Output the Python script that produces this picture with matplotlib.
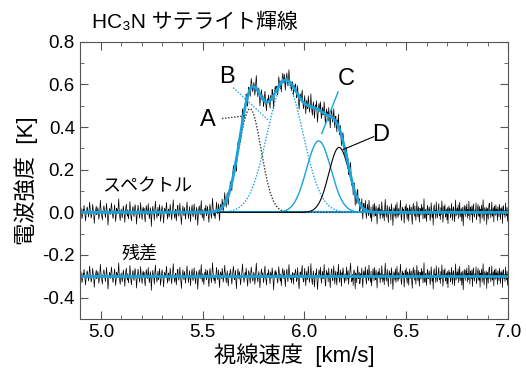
import numpy as np
import matplotlib
matplotlib.use('Agg')
import matplotlib.pyplot as plt
from matplotlib.ticker import MultipleLocator

plt.rcParams['font.family'] = ['Liberation Sans', 'Noto Sans CJK JP', 'DejaVu Sans']
plt.rcParams['axes.unicode_minus'] = False

# Gaussian fit components (amplitude [K], centre [km/s], sigma [km/s])
comp_names = ['A', 'B', 'C', 'D']
comp_amp = [0.486, 0.61, 0.335, 0.305]
comp_center = [5.732, 5.905, 6.07, 6.17]
comp_sigma = [0.055, 0.088, 0.06, 0.05]

# residual after the fit, in mK, one value per channel (4.9 - 7.0 km/s)
residual_mK = [
    8, 21, -6, -30, -12, 15, 4, 33, 10, -18, -41, -9, 2, 26, 17, -5, -22, 11, 48, 19,
    -3, -27, -14, 6, 38, 12, -8, -52, -20, 1, 14, 29, -11, -2, 23, 7, -33, -16, 9, 57,
    22, -4, -19, -36, 5, 18, 31, 13, -7, -25, 3, 42, 16, -13, -60, -24, 0, 19, 8, -10,
    27, 44, 6, -15, -29, -8, 12, 35, -2, -43, -17, 20, 9, -6, 25, 63, 14, -21, -38, -1,
    16, -9, -26, 4, 30, 11, -14, -47, -5, 24, 39, 2, -18, 13, -31, -12, 7, 51, 18, -23,
    -40, -7, 15, 28, -3, -20, 10, 37, 21, -11, -55, -16, 6, 34, 14, -8, -28, 3, 46, 9,
    -17, -34, 12, 25, -6, 19, -24, -45, 1, 32, 17, -10, -2, 41, 8, -30, -13, 22, 5, -66,
    -19, 10, 29, 4, -12, -37, 18, 53, 13, -9, -27, 0, 24, -15, -4, 36, 11, -42, -21, 7,
    31, 15, -8, -50, -18, 20, 6, -3, 27, 45, -14, -32, 9, 16, -22, -6, 38, 12, -11, -35,
    3, 26, 59, 17, -13, -28, 2, 14, -40, -9, 21, 33, -5, -19, 8, 43, 10, -24, -57, -15,
    11, 30, -2, -16, 23, 6, -33, -10, 18, 49, 15, -7, -29, 4, 27, -12, -44, 0, 19, 35,
    -8, -21, 13, 40, 7, -14, -36, 9, 24, -4, -61, -18, 16, 31, 2, -11, 22, 55, -6, -26,
    14, -3, -39, -12, 20, 8, 34, -17, -5, 28, 11, -23, -48, 6, 37, 18, -9, -30, 12, 64,
    25, -7, -20, 3, -34, -13, 17, 42, 9, -15, -2, 30, -25, -52, 10, 21, 5, -11, 38, 14,
    -28, -8, 19, 52, 16, -4, -31, 7, 26, -18, -45, -10, 13, 3, 33, 20, -14, -37, 1, 24,
    47, 12, -16, -5, 29, -22, -58, -9, 15, 36, 6, -13, 22, -3, -40, -17, 8, 31, 58, 10,
    -12, -29, 4, 18, -6, 39, 13, -21, -46, 2, 27, 16, -8, -33, 11, 44, 19, -2, -24, -9,
    20, 7, -38, -15, 31, 62, 14, -10, -27, 5, 23, -4, -53, -19, 9, 35, 12, -7, 17, -30,
    -11, 26, 48, 3, -20, -41, 8, 15, -2, 32, 10, -16, -35, 21, 6, -9, 40, 18, -25, -63,
    -14, 13, 29, -1, 22, 9, -18, -32, 4, 45, 17, -6, -23, 11, -44, -12, 24, 37, 5, -10,
    28, -19, -48, 2, 16, 34, -7, -26, 12, 55, 21, -3, -15, 8, -31, -11, 19, 6, -37, 14,
    -6, 17, 33, 9, -24, -13, 41, 2, -35, -58, -8, 21, 14, -3, 29, 52, 7, -19, -27, 11,
    38, -10, -44, 5, 23, -16, -1, 47, 19, -29, -12, 8, 60, 13, -21, -39, 4, 26, -7, -50,
    -18, 15, 3, 36, -9, -62, -23, 10, 31, 18, -4, 43, -14, -33, 6, 24, -11, 1, 55, 20,
    -30, -45, 12, 28, -2, 16, -26, 39, 7, -15, -53, 0, 22, 35, -8, -20, 14, 49, -5, -36,
    9, 25, -17, -41, 19, 4, 57, 11, -28, -6, 30, -12, -47, 17, 2, 40, 21, -9, -32, 13,
    -3, -22, 44, 15, -13, 27, -38, -7, 8, 34, 62, 5, -25, -16, 10, -43, 19, 31, -2, -59,
    16, 7, -30, 23, 48, -11, -4, 20, -35, -17, 12, 3, 39, -24, -52, 14, 26, -6, 9, 45,
    -14, -37, 6, 32, 1, -19, 53, 18, -9, -28, 24, -45, -13, 7, 36, 11, -21, 42, -3, -16,
    29, -8, -55, 13, 21, -2, 37, 4, -31, 15, -12, 50, 20, -27, -7, 9, -40, 25, 61, -1,
    -23, 11, 33, -15, -48, 6, 27, -5, 14, -36, 40, 17, -10, -62, 2, 22, 8, -19, 35, -29,
    12, 46, -7, -24, 18, -13, -1, 31, 57, -20, -38, 10, 25, -4, 15, -51, -16, 28, 3, 39,
    -11, -33, 21, 6, -42, 14, 35, -9, 1, 24, -27, -56, 16, 43, 8, -18, 30, -6, -37, 12,
    51, 4, -21, 27, -8, -46, 19, 11, -14, 38, -3, 23, -31, 7, 64, -17, -28, 13, 2, -43,
    18, 32, -12, -5, 26, 9, -39, -19, 45, 15, -24, 3, -60, 20, 36, -7, 11, -29, 49, 6,
    -26, -4, 17, 41, -15, 5, -34, 22, -10, 54, 13, -47, -18, 29, 1, 37, -22, -8, 16, -35,
    23, -53, 9, 30, -2, 19, -25, -12, 42, 7, -38, 14, 26, -6, -44, 11, 58, -17, 4, 21,
    -9, 35, -30, 13, 47, -21, 0, 18, -41, 24, -14, -63, 10, 33, 6, -20, 28, -5, 39, -27,
    14, -16, 52, 3, -36, 25, 9, -11, 31, -48, 17, 40, -7, -23, 12, -2, 45, -33, -13, 20,
    37, -6, -19, 28, -51, 15, 4, 34, -28, 10, 59, -15, -40, 22, 8, -9, 26, -57, 18, 1,
    -32, 24, 43, -10, 13, -26, 6, 49, -18, -3, 21, -45, 30, 11, -14, 36, -8, 16, -39, 27,
    5, -21, 38, 12, -34, 19, -7, 27, -52, 14, 32, -11, 8, -25, 44, 2, -17, 23, -42, 10,
]
residual_offset = -0.3

CYAN = '#18a3dd'
DOT = (0, (1, 1.2))

v = np.linspace(4.9, 7.0, len(residual_mK))
vf = np.linspace(4.9, 7.0, 2000)
resid = np.array(residual_mK) / 1000.0


def gauss(x, a, c, s):
    return a * np.exp(-0.5 * ((x - c) / s) ** 2)


params = list(zip(comp_amp, comp_center, comp_sigma))
comps = [gauss(vf, a, c, s) for a, c, s in params]
model_f = np.sum(comps, axis=0)
model_v = np.sum([gauss(v, a, c, s) for a, c, s in params], axis=0)
spectrum = model_v + resid

fig = plt.figure(figsize=(5.26, 3.77), dpi=100)
ax = fig.add_axes([0.153, 0.154, 0.813, 0.735])

ax.plot(v, spectrum, color='black', lw=0.5)
ax.plot(v, resid + residual_offset, color='black', lw=0.5)

ax.axhline(0.0, color=CYAN, lw=1.5)
ax.axhline(residual_offset, color=CYAN, lw=2)

styles = [dict(color='#333333', ls=DOT, lw=1.0),
          dict(color=CYAN, ls=DOT, lw=1.0),
          dict(color=CYAN, ls='-', lw=1.0),
          dict(color='black', ls='-', lw=0.8)]
for y, st in zip(comps, styles):
    ax.plot(vf, y, **st)
ax.plot(vf, model_f, color=CYAN, lw=2.0)

# labels with leader lines
ax.plot([5.595, 5.708], [0.44, 0.453], color='#333333', ls=DOT, lw=1.0)
ax.plot([5.65, 5.82], [0.585, 0.435], color=CYAN, ls=DOT, lw=1.0)
ax.plot([6.165, 6.085], [0.565, 0.37], color=CYAN, lw=1.0)
ax.plot([6.34, 6.19], [0.355, 0.295], color='black', lw=0.8)
for name, x, y in zip(comp_names, [5.525, 5.62, 6.205, 6.375], [0.435, 0.635, 0.625, 0.365]):
    ax.text(x, y, name, fontsize=17, ha='center', va='center')

ax.text(5.23, 0.12, 'スペクトル', fontsize=13, ha='center', va='center')
ax.text(5.19, -0.195, '残差', fontsize=13, ha='center', va='center')

ax.set_xlim(4.9, 7.0)
ax.set_ylim(-0.5, 0.8)
ax.xaxis.set_minor_locator(MultipleLocator(0.1))
ax.yaxis.set_minor_locator(MultipleLocator(0.1))
ax.set_yticks([-0.4, -0.2, 0.0, 0.2, 0.4, 0.6, 0.8])
ax.set_yticklabels(['-0.4', '-0.2', '0.0', '0.2', '0.4', '0.6', '0.8'])
ax.set_xticks([5.0, 5.5, 6.0, 6.5, 7.0])
ax.set_xticklabels(['5.0', '5.5', '6.0', '6.5', '7.0'])
ax.tick_params(which='both', direction='in', top=True, right=True, labelsize=13.5,
               color='#555555')
ax.tick_params(which='major', length=6, pad=4)
ax.tick_params(which='minor', length=3)
for sp in ax.spines.values():
    sp.set_color('#555555')

ax.set_xlabel('視線速度  [km/s]', fontsize=16, labelpad=1)
ax.set_ylabel('電波強度  [K]', fontsize=16, labelpad=3)
ax.text(0.027, 1.07, 'HC₃N サテライト輝線', transform=ax.transAxes, fontsize=15,
        ha='left', va='center')

fig.savefig('out.png', dpi=100)
